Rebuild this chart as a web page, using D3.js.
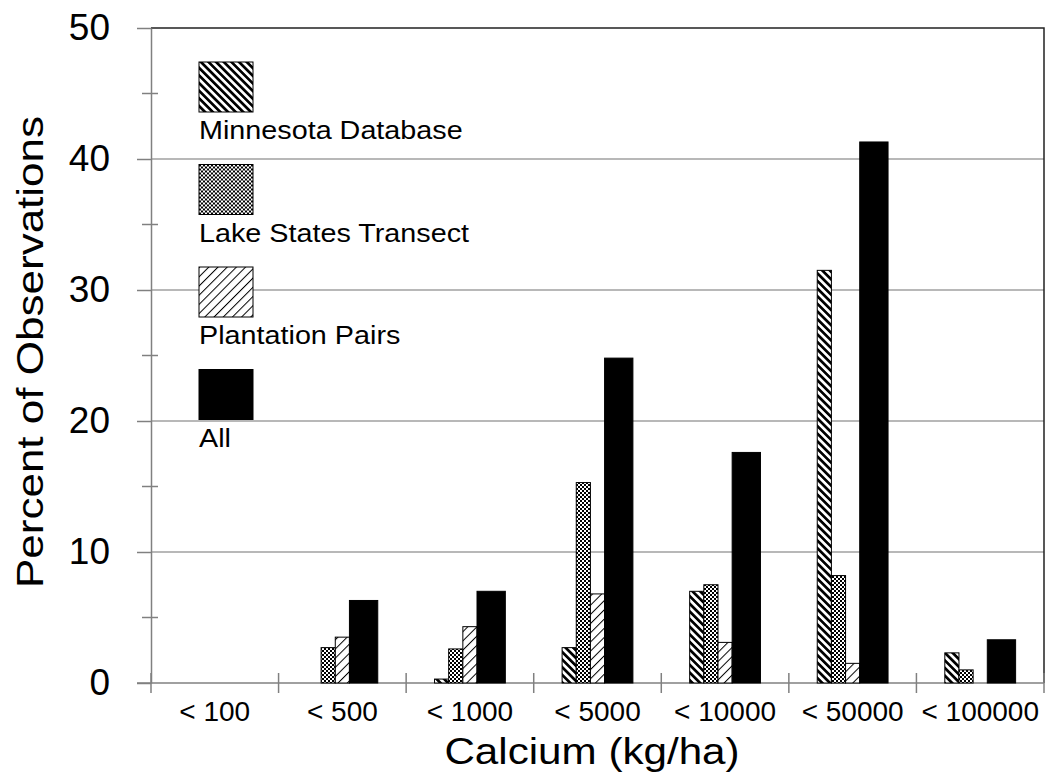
<!DOCTYPE html>
<html>
<head>
<meta charset="utf-8">
<script src="https://cdn.jsdelivr.net/npm/d3@7"></script>
<style>
    body { margin: 0; background: #fff; }
    svg { display: block; font-family: "Liberation Sans", Arial, sans-serif; }
</style>
</head>
<body>
<svg id="chart" width="1046" height="774"></svg>
<script>
// Categories (calcium classes) and the percent of observations per data set
const categories = ["< 100", "< 500", "< 1000", "< 5000", "< 10000", "< 50000", "< 100000"];
const minnesota = [0, 0, 0.3, 2.7, 7.0, 31.5, 2.3];
const lakeStates = [0, 2.7, 2.6, 15.3, 7.5, 8.2, 1.0];
const plantation = [0, 3.5, 4.3, 6.8, 3.1, 1.5, 0];
const allObs = [0, 6.3, 7.0, 24.8, 17.6, 41.3, 3.3];
const seriesNames = ["Minnesota Database", "Lake States Transect", "Plantation Pairs", "All"];
const yTicks = [0, 10, 20, 30, 40, 50];

const svg = d3.select("#chart");
const plot = { left: 151, right: 1044, top: 28, bottom: 683 };

const x = d3.scaleBand().domain(categories).range([plot.left, plot.right]).padding(0);
const y = d3.scaleLinear().domain([0, 50]).range([plot.bottom, plot.top]);

/*
    Fill patterns used by the bars: heavy back-slash stripes, fine checker,
    thin forward-slash lines and plain black
*/
const defs = svg.append("defs");

const stripes = defs.append("pattern")
    .attr("id", "pat-mn")
    .attr("patternUnits", "userSpaceOnUse")
    .attr("width", 5.4).attr("height", 10)
    .attr("patternTransform", "rotate(-45)");
stripes.append("rect").attr("width", 5.4).attr("height", 10).attr("fill", "#fff");
stripes.append("rect").attr("width", 2.7).attr("height", 10).attr("fill", "#000");

const checker = defs.append("pattern")
    .attr("id", "pat-ls")
    .attr("patternUnits", "userSpaceOnUse")
    .attr("width", 4).attr("height", 4);
checker.append("rect").attr("width", 4).attr("height", 4).attr("fill", "#fff");
checker.append("rect").attr("width", 2).attr("height", 2).attr("fill", "#000");
checker.append("rect").attr("x", 2).attr("y", 2).attr("width", 2).attr("height", 2).attr("fill", "#000");

const hatch = defs.append("pattern")
    .attr("id", "pat-pp")
    .attr("patternUnits", "userSpaceOnUse")
    .attr("width", 6.5).attr("height", 10)
    .attr("patternTransform", "rotate(45)");
hatch.append("rect").attr("width", 6.5).attr("height", 10).attr("fill", "#fff");
hatch.append("rect").attr("width", 1).attr("height", 10).attr("fill", "#000");

const fills = ["url(#pat-mn)", "url(#pat-ls)", "url(#pat-pp)", "#000"];

// Gridlines
svg.append("g")
    .selectAll("line")
    .data(yTicks.filter(d => d > 0 && d < 50))
    .join("line")
    .attr("x1", plot.left).attr("x2", plot.right)
    .attr("y1", d => y(d)).attr("y2", d => y(d))
    .attr("stroke", "#a0a0a0").attr("stroke-width", 1.5);

// Plot frame: top and right sides dark
svg.append("path")
    .attr("d", `M${plot.left},${y(50)}H${plot.right}V${y(0)}`)
    .attr("fill", "none").attr("stroke", "#222").attr("stroke-width", 1.5);

// Y axis with major ticks and crossing minor ticks
const yAxis = svg.append("g").attr("transform", `translate(${plot.left},0)`)
    .call(d3.axisLeft(y).tickValues(yTicks).tickSize(14).tickPadding(27).tickSizeOuter(0))
    .call(g => g.select(".domain").attr("stroke", "#808080").attr("stroke-width", 1.5))
    .call(g => g.selectAll(".tick line").attr("stroke", "#808080").attr("stroke-width", 1.5))
    .call(g => g.selectAll(".tick text")
        .attr("font-family", "'Liberation Sans', Arial, sans-serif")
        .attr("font-size", 37).attr("fill", "#000"));

yAxis.append("g")
    .selectAll("line")
    .data(d3.range(5, 50, 10))
    .join("line")
    .attr("x1", -9).attr("x2", 7)
    .attr("y1", d => y(d)).attr("y2", d => y(d))
    .attr("stroke", "#808080").attr("stroke-width", 1.5);

// X axis: ticks at category boundaries, crossing the baseline
const xAxis = svg.append("g").attr("transform", `translate(0,${plot.bottom})`);
xAxis.append("line")
    .attr("x1", plot.left - 14).attr("x2", plot.right)
    .attr("stroke", "#808080").attr("stroke-width", 1.5);
xAxis.selectAll(".bound")
    .data(categories.map(c => x(c)).concat([plot.right]))
    .join("line")
    .attr("class", "bound")
    .attr("x1", d => d).attr("x2", d => d)
    .attr("y1", -10).attr("y2", 10)
    .attr("stroke", "#808080").attr("stroke-width", 1.5);
xAxis.selectAll(".lab")
    .data(categories)
    .join("text")
    .attr("class", "lab")
    .attr("x", d => x(d) + x.bandwidth() / 2)
    .attr("y", 38)
    .attr("text-anchor", "middle")
    .attr("font-size", 28)
    .text(d => d);

// Bars: three narrow series and a double-width "All" bar per category
const unit = x.bandwidth() * 0.111;
const groupStart = (x.bandwidth() - 5 * unit) / 2;
const seriesValues = [minnesota, lakeStates, plantation, allObs];
const barData = [];
seriesValues.forEach((vals, s) => {
    vals.forEach((v, i) => {
        if (v > 0) barData.push({ s: s, cat: categories[i], v: v });
    });
});

svg.append("g")
    .selectAll("rect")
    .data(barData)
    .join("rect")
    .attr("x", d => x(d.cat) + groupStart + d.s * unit)
    .attr("width", d => d.s === 3 ? 2 * unit : unit)
    .attr("y", d => y(d.v))
    .attr("height", d => y(0) - y(d.v))
    .attr("fill", d => fills[d.s])
    .attr("stroke", "#000").attr("stroke-width", 1);

// Legend: swatch with the label underneath
const legend = svg.append("g").attr("transform", "translate(199,62)");
const item = legend.selectAll("g")
    .data(seriesNames)
    .join("g")
    .attr("transform", (d, i) => `translate(0,${i * 102.5})`);
item.append("rect")
    .attr("width", 54).attr("height", 50)
    .attr("fill", (d, i) => fills[i])
    .attr("stroke", "#000").attr("stroke-width", 1);
item.append("text")
    .attr("transform", "translate(0,77) scale(1.15,1)")
    .attr("font-size", 25)
    .text(d => d);

// Axis titles
svg.append("text")
    .attr("transform", "translate(592,764) scale(1.14,1)")
    .attr("text-anchor", "middle")
    .attr("font-size", 37)
    .text("Calcium (kg/ha)");

svg.append("text")
    .attr("transform", "translate(43,352) rotate(-90) scale(1.19,1)")
    .attr("text-anchor", "middle")
    .attr("font-size", 37)
    .text("Percent of Observations");
</script>
</body>
</html>
